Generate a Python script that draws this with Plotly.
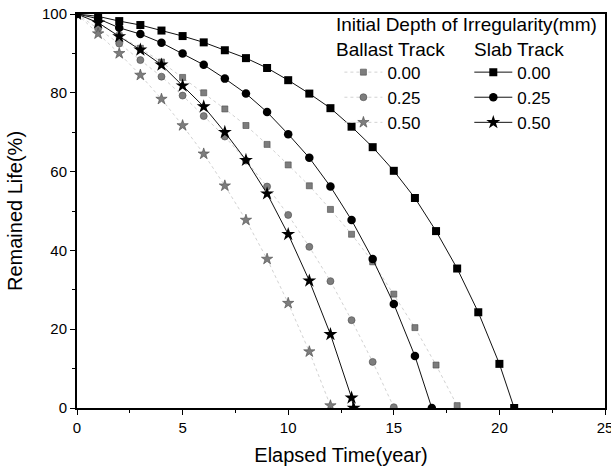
import plotly.graph_objects as go

# ---- data ----
years_slab_000 = [0, 1, 2, 3, 4, 5, 6, 7, 8, 9, 10, 11, 12, 13, 14, 15, 16, 17, 18, 19, 20, 20.7]
life_slab_000 = [100, 99.4, 98.2, 97.2, 95.8, 94.4, 92.8, 90.8, 88.8, 86.3, 83.2, 79.8, 76.1, 71.4,
                 66.2, 60.2, 53.3, 44.9, 35.4, 24.3, 11.2, 0]
years_slab_025 = [0, 1, 2, 3, 4, 5, 6, 7, 8, 9, 10, 11, 12, 13, 14, 15, 16, 16.8]
life_slab_025 = [100, 98.8, 96.5, 94.9, 92.7, 90.0, 87.1, 83.6, 79.8, 75.1, 69.5, 63.5, 56.2, 47.7,
                 37.8, 26.4, 13.2, 0]
years_slab_050 = [0, 1, 2, 3, 4, 5, 6, 7, 8, 9, 10, 11, 12, 13, 13.1]
life_slab_050 = [100, 97.8, 94.3, 90.9, 87.1, 81.8, 76.5, 70.0, 62.9, 54.4, 44.1, 32.3, 18.7, 2.6, 0]

years_ballast_000 = [0, 1, 2, 3, 4, 5, 6, 7, 8, 9, 10, 11, 12, 13, 14, 15, 16, 17, 18]
life_ballast_000 = [100, 97.5, 94.5, 91.3, 87.8, 83.9, 80.0, 75.9, 71.7, 66.9, 61.7, 56.4, 50.4, 44.1,
                    37.1, 28.9, 20.4, 10.9, 0.6]
years_ballast_025 = [0, 1, 2, 3, 4, 5, 6, 7, 8, 9, 10, 11, 12, 13, 14, 15]
life_ballast_025 = [100, 96.3, 92.5, 88.3, 84.1, 79.3, 74.1, 68.9, 62.8, 56.2, 49.0, 40.9, 32.2, 22.3,
                    11.7, 0.2]
years_ballast_050 = [0, 1, 2, 3, 4, 5, 6, 7, 8, 9, 10, 11, 12]
life_ballast_050 = [100, 95.0, 90.0, 84.5, 78.4, 71.7, 64.5, 56.4, 47.7, 37.8, 26.6, 14.3, 0.6]

depth_labels = ["0.00", "0.25", "0.50"]
x_ticks = [0, 5, 10, 15, 20, 25]
y_ticks = [0, 20, 40, 60, 80, 100]

FONT = "Liberation Sans, Arial, sans-serif"

fig = go.Figure()

ballast = [(years_ballast_000, life_ballast_000, "square", 6),
           (years_ballast_025, life_ballast_025, "circle", 7),
           (years_ballast_050, life_ballast_050, "star", 8.5)]
slab = [(years_slab_000, life_slab_000, "square", 8),
        (years_slab_025, life_slab_025, "circle", 8.5),
        (years_slab_050, life_slab_050, "star", 10.5)]

for (xs, ys, sym, sz), name in zip(ballast, depth_labels):
    fig.add_trace(go.Scatter(
        x=xs, y=ys, mode="lines+markers", name=name, legend="legend",
        line=dict(color="#d2d2d2", width=1, dash="dot"),
        marker=dict(symbol=sym, size=sz, color="#7d7d7d",
                    line=dict(color="#4a4a4a", width=0.6)),
    ))

for (xs, ys, sym, sz), name in zip(slab, depth_labels):
    fig.add_trace(go.Scatter(
        x=xs, y=ys, mode="lines+markers", name=name, legend="legend2",
        line=dict(color="#111111", width=1),
        marker=dict(symbol=sym, size=sz, color="#000000",
                    line=dict(width=0)),
    ))

axis_common = dict(
    showline=True, linecolor="black", linewidth=2, mirror=True,
    ticks="outside", ticklen=5, tickwidth=1.3, tickcolor="black",
    showgrid=False, zeroline=False, automargin=False,
    ticklabeloverflow="allow",
    tickfont=dict(family=FONT, size=15, color="black"),
)

fig.update_xaxes(
    range=[0, 25], tickvals=x_ticks, ticktext=[str(v) for v in x_ticks],
    minor=dict(ticks="outside", ticklen=3, tickwidth=1, tickcolor="black", dtick=2.5, showgrid=False),
    title=dict(text="Elapsed Time(year)", font=dict(family=FONT, size=20, color="black"), standoff=13),
    **axis_common,
)
fig.update_yaxes(
    range=[0, 100], tickvals=y_ticks, ticktext=[str(v) for v in y_ticks],
    minor=dict(ticks="outside", ticklen=3, tickwidth=1, tickcolor="black", dtick=10, showgrid=False),
    title=dict(text="Remained Life(%)", font=dict(family=FONT, size=20, color="black"), standoff=14),
    **axis_common,
)

legend_common = dict(
    bgcolor="rgba(0,0,0,0)", borderwidth=0,
    font=dict(family=FONT, size=17, color="black"),
    tracegroupgap=0, itemwidth=38,
    xanchor="left", yanchor="top",
)

title_font = dict(family=FONT, size=19, color="black")

fig.update_layout(
    width=611, height=473,
    margin=dict(l=77, r=6, t=14, b=65),
    paper_bgcolor="white", plot_bgcolor="white",
    showlegend=True,
    legend=dict(x=0.497, y=0.897, **legend_common),
    legend2=dict(x=0.743, y=0.897, **legend_common),
    annotations=[
        dict(text="Initial Depth of Irregularity(mm)", xref="paper", yref="paper",
             x=0.487, y=0.974, xanchor="left", yanchor="middle", showarrow=False,
             font=title_font),
        dict(text="Ballast Track", xref="paper", yref="paper",
             x=0.487, y=0.911, xanchor="left", yanchor="middle", showarrow=False,
             font=title_font),
        dict(text="Slab Track", xref="paper", yref="paper",
             x=0.749, y=0.911, xanchor="left", yanchor="middle", showarrow=False,
             font=title_font),
    ],
)

fig.write_html("out.html",
               config={"displayModeBar": False},
               post_script="document.body.style.margin='0px';document.body.style.padding='0px';")
